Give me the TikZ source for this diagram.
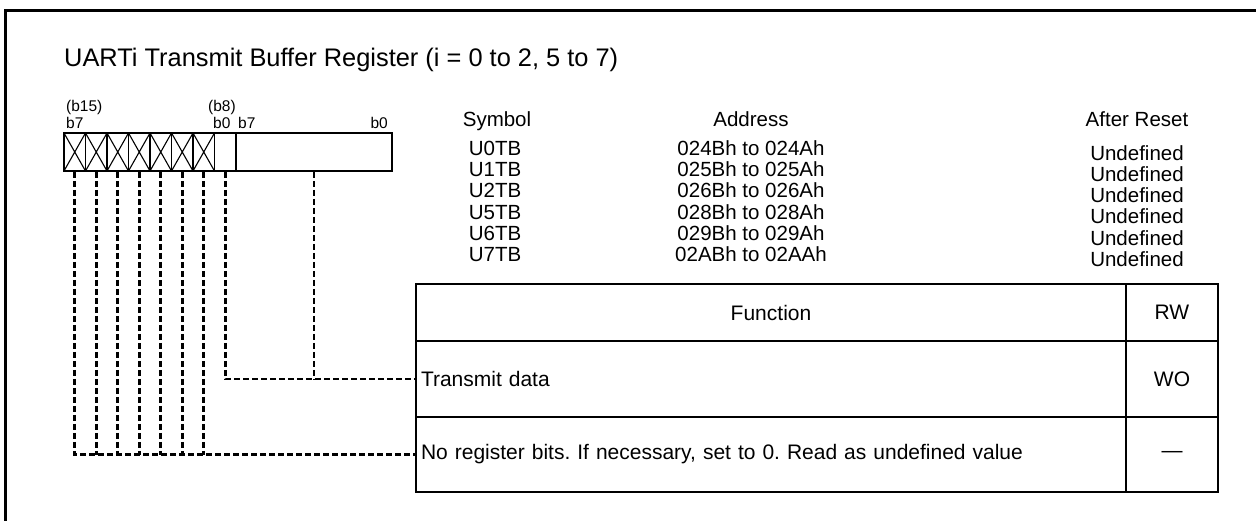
\documentclass[tikz,border=0pt]{standalone}
\usepackage{fontspec}
\setmainfont{Liberation Sans}
\usetikzlibrary{positioning}
\frenchspacing

\begin{document}
\begin{tikzpicture}[x=1pt,y=-1pt,
  bitcell/.style={draw,line width=1.5pt,inner sep=0pt,minimum width=21.5pt,minimum height=38pt},
  rsvbit/.style={bitcell,path picture={\draw[line width=1.1pt] (path picture bounding box.north west) -- (path picture bounding box.south east) (path picture bounding box.south west) -- (path picture bounding box.north east);}},
  conn/.style={line width=2.8pt,dash pattern=on 6pt off 3pt},
  cell/.style={draw,line width=1.8pt,inner sep=0pt,font=\fontsize{21}{24}\selectfont},
  lbl/.style={inner sep=0pt,font=\fontsize{20.5}{24}\selectfont},
  bitlbl/.style={inner sep=0pt,font=\fontsize{15.5}{17}\selectfont}]
\useasboundingbox (0,0) rectangle (1256,520);

%Frame
\draw [line width=2.8pt] (5.3,522) -- (5.3,10.3) -- (1258,10.3) ;

% Title
\node [lbl,anchor=base west,font=\fontsize{25.4}{28}\selectfont] (title) at (64,66.7) {UARTi Transmit Buffer Register (i = 0 to 2, 5 to 7)};

%Register bits
\foreach \b [count=\k from 0] in {15,...,9}
  \node [rsvbit] (c\b) at (74.75+21.5*\k,152) {};
\node [bitcell] (c8) at (225.25,152) {};
\node [bitcell,minimum width=156pt] (low) at (314,152) {};

% Bit labels
\node [bitlbl,anchor=base west] (hi15) at (66,111) {(b15)};
\node [bitlbl,anchor=base west] (hi7) at (66,128) {b7};
\node [bitlbl,anchor=base west] (hi8) at (208,111) {(b8)};
\node [bitlbl,anchor=base west] (hi0) at (213,128) {b0};
\node [bitlbl,anchor=base west] (lo7) at (238,128) {b7};
\node [bitlbl,anchor=base east] (lo0) at (388,128) {b0};

% Symbol / Address / After Reset
\node [lbl,anchor=base] (symhead) at (497,126) {Symbol};
\node [lbl,anchor=base] (adrhead) at (751,126) {Address};
\node [lbl,anchor=base] (rsthead) at (1137,126) {After Reset};
\foreach \s/\a [count=\k from 0] in {U0TB/024Bh to 024Ah,U1TB/025Bh to 025Ah,U2TB/026Bh to 026Ah,U5TB/028Bh to 028Ah,U6TB/029Bh to 029Ah,U7TB/02ABh to 02AAh} {
  \node [lbl,anchor=base] (sym\k) at (495,155.5+21.2*\k) {\s};
  \node [lbl,anchor=base] (adr\k) at (751,155.5+21.2*\k) {\a};
  \node [lbl,anchor=base] (rst\k) at (1137,160.3+21.2*\k) {Undefined};
}

%Table
\node [cell,minimum width=710pt,minimum height=57pt] (fnhead) at (771,312.5) {Function};
\node [cell,minimum width=92pt,minimum height=57pt] (rwhead) at (1172,312.5) {RW};
\node [cell,minimum width=710pt,minimum height=76pt,text width=700pt,inner xsep=5pt,align=left] (txcell) at (771,379) {Transmit data};
\node [cell,minimum width=92pt,minimum height=76pt] (txrw) at (1172,379) {WO};
\node [cell,minimum width=710pt,minimum height=75pt,text width=700pt,inner xsep=5pt,align=left] (nrcell) at (771,454.5) {No register bits. If necessary, set to 0. Read as undefined value};
\node [cell,minimum width=92pt,minimum height=75pt] (nrrw) at (1172,454.5) {—};

%Connectors
\draw [conn] (c15.south) |- (nrcell.west) ;
\foreach \b in {14,...,9}
  \draw [conn] (c\b.south) -- (c\b.south |- nrcell.west) ;
\draw [conn] (c8.south) |- (txcell.west) ;
\draw [conn] (low.south) -- (low.south |- txcell.west) ;

\end{tikzpicture}
\end{document}
